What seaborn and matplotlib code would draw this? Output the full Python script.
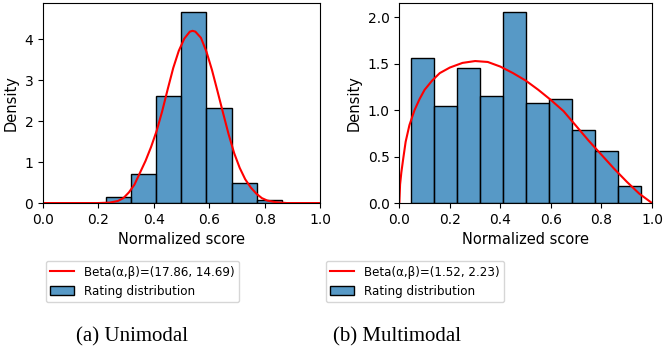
import matplotlib
matplotlib.use("Agg")
import matplotlib.pyplot as plt
import seaborn as sns

# --------------------------------------------------------------
# Data
# --------------------------------------------------------------
# (a) unimodal: histogram bin edges and bar heights (density)
uni_edges = [0.226, 0.317, 0.408, 0.499, 0.590, 0.681, 0.773, 0.864]
uni_density = [0.14, 0.71, 2.61, 4.66, 2.33, 0.50, 0.07]
# red fitted curve
uni_curve_x = [0.00, 0.20, 0.24, 0.27, 0.29, 0.31, 0.33, 0.35, 0.37, 0.39,
               0.41, 0.43, 0.45, 0.47, 0.49, 0.51, 0.53, 0.54, 0.55, 0.57,
               0.59, 0.61, 0.63, 0.65, 0.67, 0.69, 0.71, 0.73, 0.75, 0.77,
               0.79, 0.81, 0.84, 0.88, 1.00]
uni_curve_y = [0.00, 0.00, 0.01, 0.05, 0.12, 0.26, 0.45, 0.74, 1.03, 1.37,
               1.76, 2.24, 2.78, 3.30, 3.72, 4.02, 4.19, 4.21, 4.19, 4.04,
               3.70, 3.25, 2.73, 2.20, 1.68, 1.22, 0.86, 0.58, 0.38, 0.23,
               0.12, 0.06, 0.02, 0.00, 0.00]
uni_label = "Beta(\u03b1,\u03b2)=(17.86, 14.69)"

# (b) multimodal
multi_edges = [0.046, 0.137, 0.228, 0.319, 0.410, 0.501, 0.592, 0.683,
               0.774, 0.865, 0.956]
multi_density = [1.566, 1.043, 1.455, 1.154, 2.054, 1.075, 1.118, 0.785,
                 0.559, 0.186]
multi_curve_x = [0.0, 0.003, 0.008, 0.015, 0.025, 0.04, 0.06, 0.08, 0.10,
                 0.13, 0.16, 0.20, 0.25, 0.30, 0.35, 0.40, 0.45, 0.50,
                 0.55, 0.60, 0.65, 0.70, 0.75, 0.80, 0.85, 0.90, 0.95,
                 0.98, 1.0]
multi_curve_y = [0.0, 0.20, 0.33, 0.47, 0.66, 0.84, 1.00, 1.12, 1.22,
                 1.32, 1.40, 1.46, 1.51, 1.53, 1.52, 1.47, 1.40, 1.32,
                 1.22, 1.11, 0.99, 0.83, 0.67, 0.52, 0.37, 0.23, 0.10,
                 0.04, 0.0]
multi_label = "Beta(\u03b1,\u03b2)=(1.52, 2.23)"

captions = ["(a) Unimodal", "(b) Multimodal"]
xticks = [0.0, 0.2, 0.4, 0.6, 0.8, 1.0]
uni_yticks = [0, 1, 2, 3, 4]
multi_yticks = [0.0, 0.5, 1.0, 1.5, 2.0]

fig = plt.figure(figsize=(6.63, 3.6), dpi=100)
ax1 = fig.add_axes([0.0649, 0.436, 0.4178, 0.556])
ax2 = fig.add_axes([0.6023, 0.436, 0.3811, 0.556])

panels = [
    (ax1, uni_edges, uni_density, uni_curve_x, uni_curve_y, uni_label,
     uni_yticks, 0.2149, 0.199),
    (ax2, multi_edges, multi_density, multi_curve_x, multi_curve_y,
     multi_label, multi_yticks, 0.6258, 0.5995),
]

for i, (ax, edges, dens, cx, cy, lab, yt, leg_x, cap_x) in enumerate(panels):
    centers = [(edges[k] + edges[k + 1]) / 2 for k in range(len(dens))]
    sns.histplot(x=centers, weights=dens, bins=edges, stat="count",
                 color="#1f77b4", alpha=0.75, edgecolor="black",
                 linewidth=1.0, ax=ax, label="Rating distribution")
    sns.lineplot(x=cx, y=cy, color="red", linewidth=1.5, ax=ax, label=lab)
    ax.set_xlim(0, 1)
    ax.set_xticks(xticks)
    ax.set_yticks(yt)
    ax.set_xlabel("Normalized score", fontsize=10.5)
    ax.set_ylabel("Density", fontsize=10.5)
    ax.tick_params(labelsize=10)

    handles, labels = ax.get_legend_handles_labels()
    ax.get_legend().remove()
    # line first, then the bars
    order = [labels.index(lab), labels.index("Rating distribution")]
    fig.legend([handles[j] for j in order], [labels[j] for j in order],
               loc="center", bbox_to_anchor=(leg_x, 0.218), fontsize=8.6)

    fig.text(cap_x, 0.063, captions[i], ha="center", va="center",
             family="Liberation Serif", fontsize=15)

fig.savefig("out.png", dpi=100)
